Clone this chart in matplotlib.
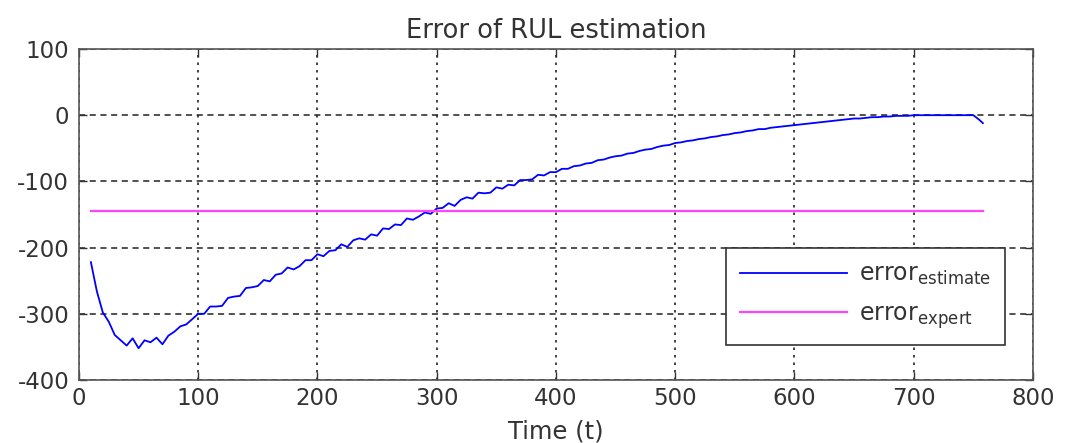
import numpy as np
import matplotlib
matplotlib.use("Agg")
import matplotlib.pyplot as plt

time_est = np.arange(10, 756, 5).tolist() + [758]
error_est = [
    -222, -266, -298, -312, -332, -340, -348, -337, -352, -340,
    -343, -336, -346, -333, -327, -319, -316, -308, -300, -300,
    -289, -289, -288, -276, -274, -273, -261, -260, -258, -249,
    -251, -241, -239, -230, -233, -228, -219, -219, -210, -213,
    -205, -204, -195, -199, -189, -186, -188, -180, -182, -171,
    -172, -165, -166, -156, -158, -153, -147, -149, -141, -140,
    -133, -137, -128, -124, -126, -117, -118, -117, -109, -111,
    -105, -106, -98, -98, -97, -90, -91, -86, -86, -81,
    -81, -77, -76, -73, -72, -68, -67, -64, -62, -61,
    -58, -57, -54, -52, -51, -48, -46, -45, -42, -41,
    -39, -38, -36, -35, -33, -32, -30, -29, -27, -26,
    -24, -23, -21, -21, -19, -18, -17, -16, -15, -14,
    -13, -12, -11, -10, -9, -8, -7, -6, -5, -5,
    -4, -3, -3, -2, -2, -1, -1, -1, 0, 0,
    0, 0, 0, 0, 0, 0, 0, 0, 0, -7, -12,
]
time_exp = [10, 758]
error_exp = [-145, -145]

plt.rcParams['font.family'] = ['DejaVu Sans']
plt.rcParams['axes.unicode_minus'] = False
plt.rcParams['mathtext.fontset'] = 'custom'
plt.rcParams['mathtext.rm'] = 'DejaVu Sans'
plt.rcParams['mathtext.it'] = 'DejaVu Sans'

fig = plt.figure(figsize=(10.7, 4.43), dpi=100)
ax = fig.add_axes([0.0738, 0.1422, 0.8916, 0.7472])

ax.plot(time_est, error_est, color='#0000ff', lw=1.3,
        label=r'error$_{\mathrm{estimate}}$')
ax.plot(time_exp, error_exp, color='#ff44ff', lw=1.6,
        label=r'error$_{\mathrm{expert}}$')

ax.set_xlim(0, 800)
ax.set_ylim(-400, 100)
ax.set_xticks(range(0, 801, 100))
ax.set_yticks(range(-400, 101, 100))

ax.xaxis.grid(True, color='#222222', linestyle=(0, (1.5, 3)), lw=1.2)
ax.yaxis.grid(True, color='#222222', linestyle=(0, (4, 3)), lw=1.1)
ax.set_axisbelow(True)

ax.tick_params(direction='in', top=True, right=True, length=6, width=1,
               labelsize=16.5, colors='#333333')
ax.tick_params(axis='y', pad=7)
ax.tick_params(axis='x', pad=5)
for s in ax.spines.values():
    s.set_color('#555555')
    s.set_linewidth(1.2)

ax.set_title('Error of RUL estimation', fontsize=18.5, color='#333333', pad=8)
ax.set_xlabel('Time (t)', fontsize=17.5, color='#333333', labelpad=7)

leg = ax.legend(loc='lower right', bbox_to_anchor=(0.9706, 0.106),
                borderaxespad=0, fontsize=17, frameon=True, fancybox=False,
                handlelength=4.5, borderpad=0.6, labelspacing=0.6,
                handletextpad=0.5)
leg.get_frame().set_edgecolor('#333333')
leg.get_frame().set_linewidth(1.2)
leg.get_frame().set_alpha(1)
for t in leg.get_texts():
    t.set_color('#333333')

fig.savefig('out.png', dpi=100)
